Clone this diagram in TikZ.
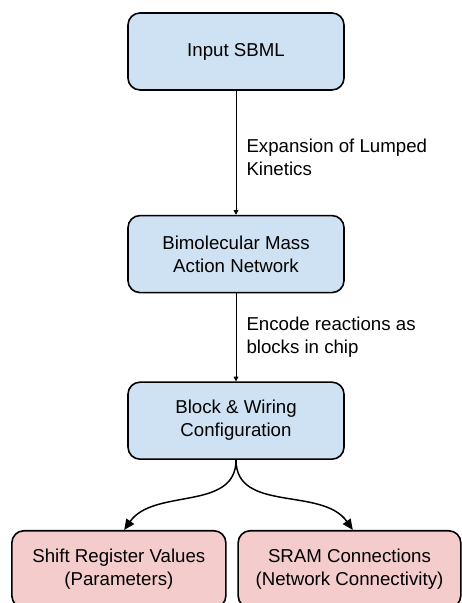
\documentclass[tikz,border=0pt]{standalone}
\usepackage{fontspec}
\setmainfont{Liberation Sans}
\usetikzlibrary{arrows.meta, positioning}
\definecolor{boxblue}{HTML}{CFE2F3}
\definecolor{boxred}{HTML}{F4CCCC}
\newcommand{\diagfont}{\fontsize{14pt}{17.25pt}\selectfont}
\tikzset{
  mod/.style={draw=black, line width=1.2pt, rounded corners=9pt, fill=boxblue,
              align=center, minimum width=162pt, minimum height=57.75pt, font=\diagfont},
  res/.style={mod, fill=boxred},
  flow/.style={-{Triangle[length=3.5pt,width=3.5pt]}, line width=0.75pt},
  split/.style={-{Triangle[length=8pt,width=7pt]}, line width=1.1pt},
  lbl/.style={align=left, inner sep=0pt, font=\diagfont},
}

\begin{document}
\begin{tikzpicture}
  \useasboundingbox (0,0) rectangle (345.75pt,-452.25pt);
  \node (sbml) [mod] at (177pt,-38.6pt) {Input SBML};
  \node (mass) [mod, below=93pt of sbml] {Bimolecular Mass\\Action Network};
  \node (cfg) [mod, below=66pt of mass] {Block \& Wiring\\Configuration};
  \node (shreg) [res, minimum width=160.5pt, below left=52.5pt and 7pt of cfg.south] {Shift Register Values\\(Parameters)};
  \node (sram) [res, minimum width=167pt, below right=52.5pt and 1pt of cfg.south] {SRAM Connections\\(Network Connectivity)};
  \draw[flow] (sbml) -- node[lbl, right=7.5pt, yshift=-3.5pt] {Expansion of Lumped\\Kinetics} (mass);
  \draw[flow] (mass) -- node[lbl, right=7.5pt] {Encode reactions as\\blocks in chip} (cfg);
  \draw[split] (cfg.south) to[out=-90, in=55] ([xshift=4pt]shreg.north);
  \draw[split] (cfg.south) to[out=-90, in=125] ([xshift=2.5pt]sram.north);
\end{tikzpicture}
\end{document}
